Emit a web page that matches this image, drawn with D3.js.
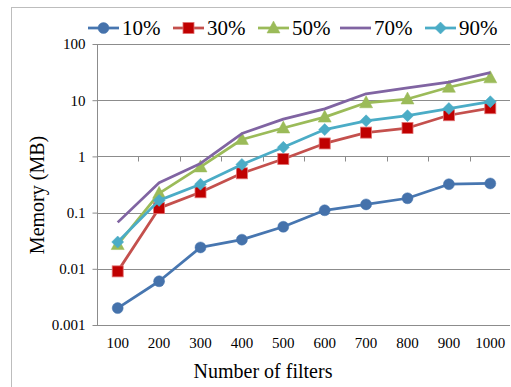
<!DOCTYPE html>
<html><head><meta charset="utf-8">
<script src="https://cdn.jsdelivr.net/npm/d3@7"></script>
<style>html,body{margin:0;padding:0;background:#fff;}svg{display:block;}</style>
</head><body>
<svg id="c" width="511" height="387"></svg>
<script>
const categories = ["100","200","300","400","500","600","700","800","900","1000"];
const s10 = [0.002,0.006,0.024,0.033,0.056,0.11,0.14,0.18,0.32,0.33];
const s30 = [0.009,0.12,0.23,0.5,0.9,1.7,2.65,3.2,5.4,7.2];
const s50 = [0.027,0.22,0.65,2.0,3.2,5.0,9.0,10.5,17,25];
const s70 = [0.067,0.34,0.75,2.55,4.6,7.0,13,16.5,21,31];
const s90 = [0.03,0.165,0.32,0.72,1.45,3.0,4.3,5.3,7.1,9.4];
const yTicks = [0.001,0.01,0.1,1,10,100];
const yTickLabels = ["0.001","0.01","0.1","1","10","100"];
const seriesNames = ["10%","30%","50%","70%","90%"];

const series = [
  {name:seriesNames[0], values:s10, color:"#4776B0", fill:"#4572AB", marker:"circle"},
  {name:seriesNames[1], values:s30, color:"#C4504D", fill:"#C00000", marker:"square"},
  {name:seriesNames[2], values:s50, color:"#9BBB59", fill:"#9BBB59", marker:"triangle"},
  {name:seriesNames[3], values:s70, color:"#8064A2", fill:"#8064A2", marker:"none"},
  {name:seriesNames[4], values:s90, color:"#4BACC6", fill:"#4BACC6", marker:"diamond"}
];

const svg = d3.select("#c");
const pLeft = 97, pRight = 511, pTop = 44, pBottom = 325;
const font = "'Liberation Serif','Times New Roman',serif";

// outer border
svg.append("rect").attr("x",11.5).attr("y",7.5).attr("width",520).attr("height",400)
  .attr("fill","none").attr("stroke","#BDBDBD").attr("stroke-width",1);

const x = d3.scaleBand().domain(categories).range([pLeft,pRight]);
const y = d3.scaleLog().domain([0.001,100]).range([pBottom,pTop]);

// gridlines
svg.append("g").selectAll("line").data(yTicks).join("line")
  .attr("x1",pLeft).attr("x2",pRight-1)
  .attr("y1",d=>Math.round(y(d))+0.5).attr("y2",d=>Math.round(y(d))+0.5)
  .attr("stroke","#8C8C8C").attr("stroke-width",1);

// y axis
const yAxis = d3.axisLeft(y).tickValues(yTicks).tickFormat((d,i)=>yTickLabels[i]).tickSize(5).tickPadding(7);
const ga = svg.append("g").attr("transform",`translate(${pLeft+0.5},0)`).call(yAxis);
ga.select(".domain").attr("stroke","#8C8C8C").attr("d",`M0,${y(100)}V${pBottom+0.5}`);
ga.selectAll(".tick line").attr("stroke","#8C8C8C");
ga.selectAll(".tick text").attr("font-family",font).attr("font-size",15).attr("fill","#000");

// category axis crossing at 1
const xCross = Math.round(y(1))+0.5;
const bounds = d3.range(categories.length+1).map(i=>pLeft + i*x.step());
svg.append("g").selectAll("line").data(bounds.slice(1)).join("line")
  .attr("x1",d=>Math.round(d)+0.5).attr("x2",d=>Math.round(d)+0.5)
  .attr("y1",xCross).attr("y2",xCross+5).attr("stroke","#8C8C8C");
svg.append("line").attr("x1",pLeft+0.5).attr("x2",pLeft+0.5).attr("y1",xCross).attr("y2",xCross+5).attr("stroke","#8C8C8C");

// x labels at bottom
svg.append("g").selectAll("text").data(categories).join("text")
  .attr("x",d=>x(d)+x.bandwidth()/2).attr("y",348)
  .attr("text-anchor","middle").attr("font-family",font).attr("font-size",15).text(d=>d);

// titles
svg.append("text").attr("x",263).attr("y",378).attr("text-anchor","middle")
  .attr("font-family",font).attr("font-size",20).text("Number of filters");
svg.append("text").attr("transform","translate(44,195) rotate(-90)").attr("text-anchor","middle")
  .attr("font-family",font).attr("font-size",20).text("Memory (MB)");

function drawMarker(g, type, fill, stroke){
  if(type==="circle") g.append("circle").attr("r",5.5).attr("fill",fill).attr("stroke",stroke).attr("stroke-width",0.5);
  else if(type==="square") g.append("rect").attr("x",-5.5).attr("y",-5.5).attr("width",11).attr("height",11).attr("fill",fill).attr("stroke","#E07070").attr("stroke-width",0.8);
  else if(type==="triangle") g.append("path").attr("d","M0,-7L6.5,5L-6.5,5Z").attr("fill",fill).attr("stroke",stroke).attr("stroke-width",0.5);
  else if(type==="diamond") g.append("path").attr("d","M0,-6L6,0L0,6L-6,0Z").attr("fill",fill).attr("stroke",stroke).attr("stroke-width",0.5);
}

const line = d3.line().x((d,i)=>x(categories[i])+x.bandwidth()/2).y(d=>y(d));
series.forEach(s=>{
  svg.append("path").attr("d",line(s.values)).attr("fill","none")
    .attr("stroke",s.color).attr("stroke-width",2.75).attr("stroke-linejoin","round");
  if(s.marker!=="none"){
    s.values.forEach((v,i)=>{
      const g = svg.append("g").attr("transform",`translate(${x(categories[i])+x.bandwidth()/2},${y(v)})`);
      drawMarker(g, s.marker, s.fill, s.color);
    });
  }
});

// legend
const legendX = [88,173,258,340,425];
const ly = 28;
series.forEach((s,i)=>{
  const g = svg.append("g").attr("transform",`translate(${legendX[i]},${ly})`);
  g.append("line").attr("x1",0).attr("x2",31).attr("y1",0).attr("y2",0).attr("stroke",s.color).attr("stroke-width",2.75);
  if(s.marker!=="none"){ const m = g.append("g").attr("transform","translate(15.5,0)"); drawMarker(m, s.marker, s.fill, s.color); }
  g.append("text").attr("x",34).attr("y",7).attr("font-family",font).attr("font-size",21).text(s.name);
});
</script>
</body></html>
